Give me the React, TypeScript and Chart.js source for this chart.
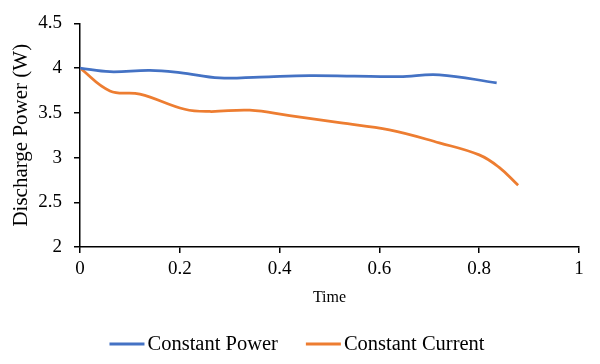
import React, { useEffect, useRef } from "react";
import { Chart, registerables } from "chart.js";

Chart.register(...registerables);

const timePower = [0, 0.06, 0.14, 0.2, 0.28, 0.36, 0.46, 0.55, 0.64, 0.72, 0.835];
const valuesPower = [4.0, 3.96, 3.976, 3.95, 3.89, 3.9, 3.917, 3.91, 3.905, 3.925, 3.835];
const timeCurrent = [0, 0.06, 0.12, 0.21, 0.26, 0.34, 0.42, 0.52, 0.62, 0.72, 0.8, 0.84, 0.878];
const valuesCurrent = [4.0, 3.745, 3.71, 3.54, 3.515, 3.53, 3.47, 3.39, 3.31, 3.165, 3.03, 2.89, 2.69];

const seriesNames = ["Constant Power", "Constant Current"];
const seriesColors = ["#4472C4", "#ED7D31"];
const xTicks = [0, 0.2, 0.4, 0.6, 0.8, 1];
const yTicks = [2, 2.5, 3, 3.5, 4, 4.5];

const FONT = "'Liberation Serif', 'Times New Roman', serif";

const bottomLegend = {
  id: "bottomLegend",
  afterDraw(chart: any) {
    const ctx = chart.ctx;
    const font = `20.5px ${FONT}`;
    const lineW = 35;
    const gapText = 3;
    const gapItem = 28;
    ctx.save();
    ctx.font = font;
    const items = chart.data.datasets.map((d: any) => ({
      text: d.label,
      color: d.borderColor,
      w: lineW + gapText + ctx.measureText(d.label).width,
    }));
    const total = items.reduce((a: number, it: any) => a + it.w, 0) + gapItem * (items.length - 1);
    let x = chart.width / 2 - 3 - total / 2;
    const y = 344;
    items.forEach((it: any) => {
      ctx.strokeStyle = it.color;
      ctx.lineWidth = 3;
      ctx.beginPath();
      ctx.moveTo(x, y);
      ctx.lineTo(x + lineW, y);
      ctx.stroke();
      ctx.fillStyle = "#000";
      ctx.textBaseline = "middle";
      ctx.textAlign = "left";
      ctx.fillText(it.text, x + lineW + gapText, y + 1);
      x += it.w + gapItem;
    });
    ctx.restore();
  },
};

export default function App() {
  const ref = useRef<HTMLCanvasElement | null>(null);

  useEffect(() => {
    if (!ref.current) return;
    const chart = new Chart(ref.current, {
      type: "scatter",
      data: {
        datasets: [
          {
            label: seriesNames[0],
            data: timePower.map((t, i) => ({ x: t, y: valuesPower[i] })),
            borderColor: seriesColors[0],
            backgroundColor: seriesColors[0],
            borderWidth: 2.75,
            showLine: true,
            tension: 0.4,
            pointRadius: 0,
          },
          {
            label: seriesNames[1],
            data: timeCurrent.map((t, i) => ({ x: t, y: valuesCurrent[i] })),
            borderColor: seriesColors[1],
            backgroundColor: seriesColors[1],
            borderWidth: 2.75,
            showLine: true,
            tension: 0.4,
            pointRadius: 0,
          },
        ],
      },
      plugins: [bottomLegend],
      options: {
        animation: false,
        responsive: true,
        maintainAspectRatio: false,
        layout: { padding: { top: 22, right: 21, left: 0, bottom: 55 } },
        plugins: {
          tooltip: { enabled: false },
          legend: { display: false },
        },
        scales: {
          x: {
            type: "linear",
            min: xTicks[0],
            max: xTicks[xTicks.length - 1],
            afterBuildTicks: (s: any) => {
              s.ticks = xTicks.map((v) => ({ value: v }));
            },
            afterFit: (s: any) => {
              s.height = 62;
            },
            ticks: {
              font: { family: FONT, size: 19 },
              color: "#000",
              padding: 5,
              callback: (v: any) => String(Math.round(Number(v) * 10) / 10),
            },
            grid: { drawOnChartArea: false, drawTicks: true, tickLength: 6, color: "#000", lineWidth: 1.5 },
            border: { color: "#000", width: 1.5 },
            title: {
              display: true,
              text: "Time",
              font: { family: FONT, size: 16 },
              color: "#000",
              padding: { top: 0, bottom: 2 },
            },
          },
          y: {
            type: "linear",
            min: yTicks[0],
            max: yTicks[yTicks.length - 1],
            afterBuildTicks: (s: any) => {
              s.ticks = yTicks.map((v) => ({ value: v }));
            },
            afterFit: (s: any) => {
              s.width = 80;
            },
            ticks: {
              font: { family: FONT, size: 19 },
              color: "#000",
              padding: 12,
              callback: (v: any) => String(Math.round(Number(v) * 10) / 10),
            },
            grid: { drawOnChartArea: false, drawTicks: true, tickLength: 6, color: "#000", lineWidth: 1.5 },
            border: { color: "#000", width: 1.5 },
            title: {
              display: true,
              text: "Discharge Power (W)",
              font: { family: FONT, size: 21 },
              color: "#000",
              padding: { top: 9, bottom: 0 },
            },
          },
        },
      },
    });
    return () => chart.destroy();
  }, []);

  return (
    <div style={{ position: "absolute", left: 0, top: 0, width: 600, height: 364, background: "#fff" }}>
      <canvas ref={ref} />
    </div>
  );
}
